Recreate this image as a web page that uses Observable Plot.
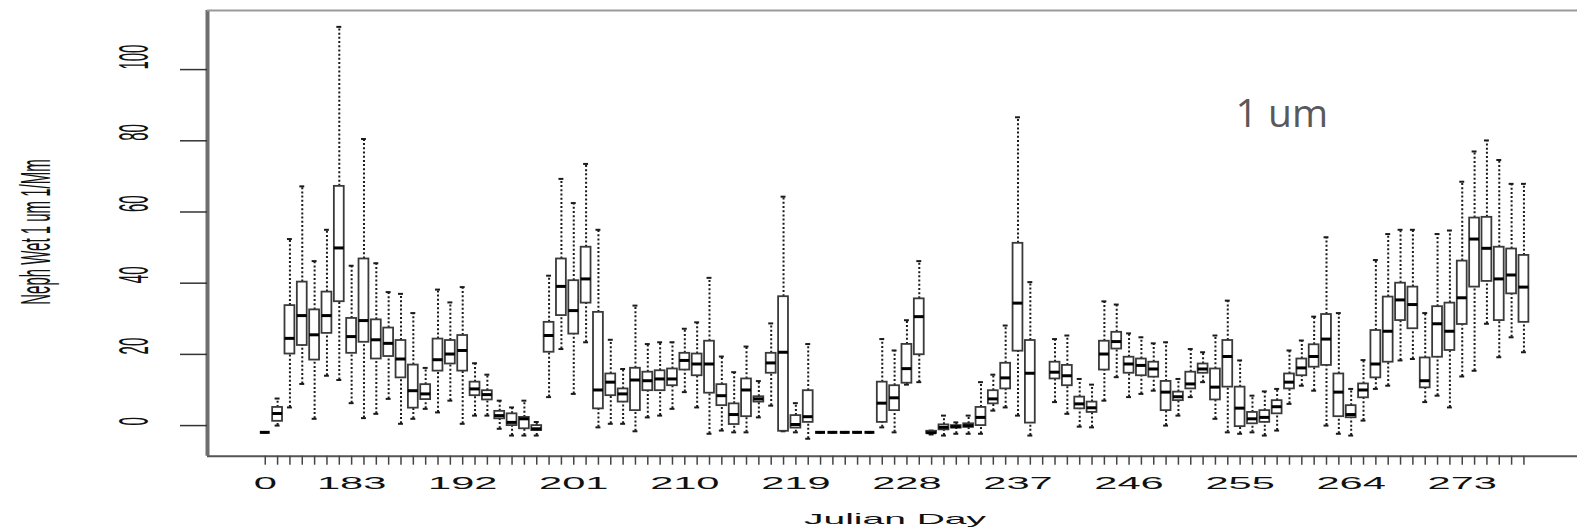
<!DOCTYPE html>
<html><head><meta charset="utf-8">
<script src="https://cdn.jsdelivr.net/npm/d3@7"></script>
<script src="https://cdn.jsdelivr.net/npm/@observablehq/plot@0.6"></script>
<style>
html,body{margin:0;padding:0;background:#fff;overflow:hidden}
</style></head><body><div id="chart"></div>
<script>
// categories (Julian day; first group is "0")
const days = [0,177,178,179,180,181,182,183,184,185,186,187,188,189,190,191,192,193,194,195,196,197,198,199,200,201,202,203,204,205,206,207,208,209,210,211,212,213,214,215,216,217,218,219,220,221,222,223,224,225,226,227,228,229,230,231,232,233,234,235,236,237,238,239,240,241,242,243,244,245,246,247,248,249,250,251,252,253,254,255,256,257,258,259,260,261,262,263,264,265,266,267,268,269,270,271,272,273,274,275,276,277,278];
const labelDays = [0,183,192,201,210,219,228,237,246,255,264,273];
const yTicks = [0,20,40,60,80,100];

// box statistics (1/Mm)
const lo = [
-1.9,0,5.1,11.7,1.9,14,12.8,6.3,2.1,3.3,
7.5,0.5,1.9,4.7,3.7,7,0.5,2.8,2.8,-0.9,
-2.8,-2.8,-2.8,8,21.5,8.9,23.4,-0.5,0.5,0.5,
-1.6,2.3,2.8,4.7,9.4,5.1,-2.3,-1.4,-1.9,-1.9,
2.3,5.6,-1.6,-1.9,-3.7,-1.9,-1.9,-1.9,-1.9,-1.9,
-0.5,-1.9,11.5,12.2,-2.5,-2.8,-2.3,-2.3,-2.3,4.2,
5.1,2.8,-2.8,null,6.6,3.3,-0.3,-0.5,7,13.6,
8,8.9,9.8,0,2.8,8,12.2,1.9,-1.9,-2.3,
-1.9,-2.8,-1.4,6.1,11.2,9.8,0,-2.3,-2.8,1.4,
10.3,11.2,18.3,18.7,6.6,8.4,5.1,13.8,15.4,28.6,
19.2,24.8,20.6];
const q1 = [
-1.9,1.2,20.1,22.5,18.4,25.9,34.8,20.3,23.4,18.7,
19.4,13.4,4.9,7.3,15.3,17.3,15.3,8.4,7.2,1.9,
0,-0.9,-1.4,20.6,30.9,25.7,34.4,4.7,8.4,6.6,
4.2,9.8,9.8,11.2,15.6,14,9.1,5.6,0.3,2.5,
6.6,14.7,-1.6,-0.7,0.9,-1.9,-1.9,-1.9,-1.9,-1.9,
0.9,4.2,11.9,19.9,-2.2,-1.2,-0.7,-0.5,0,6.1,
10.3,20.9,0.7,null,13.1,11.2,4.7,3.7,15.6,21.5,
14.7,14,13.6,4.2,7,10.3,14.7,7.2,10.8,-0.3,
0.5,0.9,3.3,10.3,14,16.4,16.9,2.5,2.2,7.8,
13.4,17.8,29.5,27.2,10.6,19.2,21.1,28.4,38.9,40.5,
29.5,37,29];
const med = [
-1.9,3.4,24.5,30.9,25.5,30.9,49.9,25,29.5,24.1,
23.1,18.7,9.8,8.9,18.5,20.1,21.1,10.3,8.7,2.8,
0.9,1.9,-0.9,25.3,39.1,32.3,41.2,10,12.2,8.9,
12.8,12.6,13.1,13.1,18.3,17.3,17.3,8.4,3.1,10,
7.5,17.6,20.6,0.3,2.5,-1.9,-1.9,-1.9,-1.9,-1.9,
6.3,7.8,16,30.6,-2,-0.5,-0.3,0,2.3,7.5,
13.4,34.4,14.7,null,15,14,6.1,5,20.1,23.6,
17.3,16.9,15.9,9.4,8.1,11.7,15.9,10.8,19.4,4.9,
1.9,2.3,5.3,12.2,16.2,19.4,24.3,9.4,3.1,10,
17.3,26.5,35.3,34,12.6,28.6,26.5,35.9,52.4,49.8,
41.2,42.3,38.9];
const q3 = [
-1.9,5.1,33.7,40.3,32.5,37.5,67.2,30.1,46.8,29.7,
27.4,23.9,17,11.5,24.3,23.9,25.3,12.2,9.8,4,
3.3,2.3,0,29,46.8,40.7,50.1,31.8,14.5,10.3,
16.1,15,15.4,15.9,20.3,20.1,23.7,11.5,6.1,13.1,
8.1,20.3,36.2,2.8,9.8,-1.9,-1.9,-1.9,-1.9,-1.9,
12.2,11.2,22.8,35.6,-1.6,0.2,0,0.5,5.1,9.8,
17.5,51.2,23.9,null,17.8,16.9,8,6.6,23.7,26.2,
19.2,18.7,17.8,12.4,9.4,15,17.3,15.9,23.9,10.8,
3.7,4.2,7,14.5,18.7,22.7,31.2,14.5,5.6,11.7,
26.7,36.1,40,38.9,19,33.4,34.4,46.2,58.3,58.5,
50.1,49.6,47.8];
const hi = [
-1.9,7.6,52.4,67.2,46.2,55,112,44.9,80.5,45.6,
37.5,37,31.6,16.2,38.2,34.6,38.9,17.5,14.3,7,
5.1,7,1,42.1,69.3,62.5,73.5,55,24.1,15.9,
33.7,22.9,23.4,23.4,27.2,29,41.5,19.4,15,22.2,
12.5,28.7,64.3,6.3,22.9,-1.9,-1.9,-1.9,-1.9,-1.9,
24.3,21.1,29.6,46.2,-1.4,2.8,0.9,2.8,12.2,14.3,
28.1,86.6,40.3,null,24.3,25.3,13.1,11.5,34.9,34,
25.9,24.8,23.1,23.4,13.1,21.5,20.6,25.3,35.1,18.3,
8.4,9.6,10.3,21.1,23.9,30.6,52.9,31.6,10.3,18.4,
46.5,53.8,55,55,31.6,53.8,54.8,68.5,77,80.1,
74.6,67.9,67.9];

// annotation
const annoLabel = ["1 um"];
const annoDay = [254.63];
const annoValue = [87.4];

const rows = days.map((d, i) => ({i, day: d, lo: lo[i], q1: q1[i], med: med[i], q3: q3[i], hi: hi[i]}))
  .filter(r => r.med != null);
const dayIndex = d => days.indexOf(177) + (d - 177);
const shown = new Set(labelDays);
const xDomain = [-4.68, 106.34];
const yDomain = [-8.6, 116.6];
const half = 0.4, cap = 0.2;
const whisk = {stroke: "#1a1a1a", strokeWidth: 2, strokeDasharray: "2,2.2"};

const chart = Plot.plot({
  width: 1577, height: 531,
  marginLeft: 207, marginRight: 0, marginTop: 10, marginBottom: 75.3,
  x: {type: "linear", domain: xDomain, label: null},
  y: {domain: yDomain, label: null},
  style: {fontFamily: "'Liberation Sans', Arial, sans-serif", background: "#fff", color: "#111"},
  marks: [
    Plot.ruleX(rows, {x: "i", y1: "q3", y2: "hi", ...whisk}),
    Plot.ruleX(rows, {x: "i", y1: "lo", y2: "q1", ...whisk}),
    Plot.ruleY(rows, {y: "hi", x1: d => d.i - cap, x2: d => d.i + cap, stroke: "#1a1a1a", strokeWidth: 2}),
    Plot.ruleY(rows, {y: "lo", x1: d => d.i - cap, x2: d => d.i + cap, stroke: "#1a1a1a", strokeWidth: 2}),
    Plot.rect(rows, {x1: d => d.i - half, x2: d => d.i + half, y1: "q1", y2: "q3", fill: "#fff", stroke: "#3a3a3a", strokeWidth: 1.8}),
    Plot.ruleY(rows, {y: "med", x1: d => d.i - half, x2: d => d.i + half, stroke: "#000", strokeWidth: 3}),
    Plot.ruleX([xDomain[0]], {stroke: "#6e6e6e", strokeWidth: 4}),
    Plot.ruleY([yDomain[1]], {stroke: "#9a9a9a", strokeWidth: 2}),
    Plot.ruleY([yDomain[0]], {stroke: "#555", strokeWidth: 2}),
    Plot.axisY({ticks: yTicks, tickSize: 27, tickFormat: () => "", stroke: "#333", strokeWidth: 1.5}),
    Plot.text(yTicks, {y: d => d, frameAnchor: "left", dx: -74, rotate: -90, text: d => String(d), fontSize: 15, fill: "#111"}),
    Plot.axisX({ticks: d3.range(days.length), tickSize: 9, tickPadding: 12, stroke: "#444", strokeWidth: 1.5, fontSize: 16, fill: "#111",
      tickFormat: i => shown.has(days[i]) ? String(days[i]) : ""}),
    Plot.text(annoLabel, {x: (d, k) => dayIndex(annoDay[k]), y: (d, k) => annoValue[k], text: d => d,
      textAnchor: "start", fontFamily: "'Open Sans', sans-serif", fontSize: 39, fill: "#595959"})
  ]
});
document.getElementById("chart").appendChild(chart);

const svg = d3.select(chart);
const svgRect = chart.getBoundingClientRect();
const yStrs = new Set(yTicks.map(String));
// y tick labels: rotated, stretched across (condensed look of the original)
const yLabs = [];
svg.selectAll("text").each(function() {
  if (!yStrs.has(this.textContent)) return;
  const r = this.getBoundingClientRect();
  if (r.right - svgRect.left > 175) return;
  yLabs.push({el: this, cx: r.left + r.width / 2 - svgRect.left, cy: r.top + r.height / 2 - svgRect.top});
});
yLabs.forEach(({el, cx, cy}) => {
  if (el.parentNode && el.parentNode.removeAttribute) el.parentNode.removeAttribute("transform");
  el.removeAttribute("x"); el.removeAttribute("y"); el.removeAttribute("dy");
  el.setAttribute("text-anchor", "middle");
  el.setAttribute("dy", "0.35em");
  el.setAttribute("transform", `translate(${cx},${cy}) rotate(-90) scale(1,2.8)`);
});
// x tick labels: stretched horizontally
svg.selectAll('g[aria-label="x-axis tick label"] text').each(function() {
  const t = this.getAttribute("transform") || "";
  this.setAttribute("transform", t + " scale(2.6,1)");
});
svg.append("text")
  .attr("transform", "translate(35,232) rotate(-90) scale(1,2.8)")
  .attr("text-anchor", "middle").attr("dy", "0.35em")
  .attr("font-size", 15).attr("fill", "#111")
  .text("Neph Wet 1 um 1/Mm");
svg.append("text")
  .attr("transform", "translate(895,524) scale(2.6,1)")
  .attr("text-anchor", "middle")
  .attr("font-size", 15).attr("fill", "#111")
  .text("Julian Day");
</script></body></html>
